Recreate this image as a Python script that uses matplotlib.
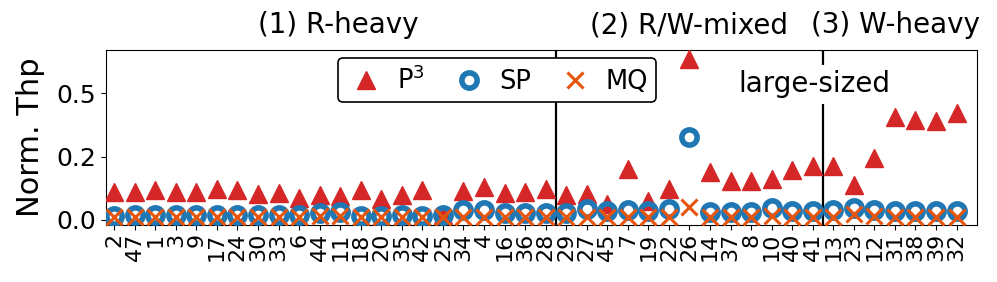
import numpy as np
import matplotlib
matplotlib.use('Agg')
import matplotlib.pyplot as plt
from matplotlib.ticker import FormatStrFormatter
import matplotlib.transforms as mtransforms

# workload ids along the x axis
labels = ['2', '47', '1', '3', '9', '17', '24', '30', '33', '6', '44', '11', '18', '20',
          '35', '42', '25', '34', '4', '16', '36', '28', '29', '27', '45', '7', '19', '22',
          '26', '14', '37', '8', '10', '40', '41', '13', '23', '12', '31', '38', '39', '32']

# normalized throughput per system
p3 = [0.112, 0.109, 0.118, 0.111, 0.109, 0.122, 0.119, 0.102, 0.106, 0.088, 0.099,
      0.093, 0.119, 0.082, 0.098, 0.118, 0.020, 0.115, 0.132, 0.105, 0.111, 0.124,
      0.097, 0.102, 0.063, 0.201, 0.076, 0.122, 0.635, 0.188, 0.155, 0.155,
      0.161, 0.197, 0.211, 0.214, 0.138, 0.243, 0.405, 0.395, 0.389, 0.424]
sp = [0.016, 0.018, 0.018, 0.018, 0.018, 0.018, 0.018, 0.020, 0.020, 0.020, 0.028,
      0.033, 0.016, 0.015, 0.020, 0.015, 0.020, 0.039, 0.039, 0.026, 0.028, 0.026,
      0.029, 0.045, 0.036, 0.039, 0.036, 0.045, 0.326, 0.033, 0.033, 0.033,
      0.048, 0.035, 0.035, 0.038, 0.048, 0.038, 0.036, 0.036, 0.036, 0.036]
mq = [0.013, 0.012, 0.012, 0.012, 0.012, 0.012, 0.012, 0.012, 0.012, 0.012, 0.014,
      0.014, 0.012, 0.012, 0.012, 0.012, 0.012, 0.013, 0.013, 0.012, 0.012, 0.012,
      0.012, 0.013, 0.012, 0.013, 0.012, 0.013, 0.050, 0.013, 0.013, 0.013,
      0.014, 0.013, 0.013, 0.013, 0.022, 0.014, 0.013, 0.013, 0.013, 0.013]

# group boundaries and headers
splits = [21.5, 34.5]
groups = ['(1) R-heavy', '(2) R/W-mixed', '(3) W-heavy']
group_x = [10.9, 28.0, 38.05]

x = np.arange(len(labels))

fig = plt.figure(figsize=(9.97, 2.82), dpi=100)
ax = fig.add_axes([0.1063, 0.202, 0.8737, 0.621])

ax.plot(x, p3, linestyle='none', marker='^', ms=12.5, color='#d62728', label='P$^3$', zorder=3)
ax.plot(x, sp, linestyle='none', marker='o', ms=11, mew=4, mfc='none', color='#1f77b4',
        label='SP', zorder=4)
ax.plot(x, mq, linestyle='none', marker='x', ms=11.5, mew=2.2, color='#e6550d', label='MQ', zorder=5)

for s in splits:
    ax.axvline(s, color='black', lw=1.6, zorder=2)

ax.set_xlim(-0.4, 42.0)
ax.set_ylim(-0.02, 0.671)
ax.set_yticks([0, 0.25, 0.5])
ax.yaxis.set_major_formatter(FormatStrFormatter('%.1f'))
ax.tick_params(axis='y', labelsize=18)
ax.set_xticks(x)
ax.set_xticklabels(labels, rotation=90, fontsize=16)
ax.tick_params(axis='x', pad=2)
ax.set_ylabel('Norm. Thp', fontsize=22, labelpad=8)

trans = mtransforms.blended_transform_factory(ax.transData, ax.transAxes)
for gx, g in zip(group_x, groups):
    ax.text(gx, 1.14, g, transform=trans, ha='center', va='center', fontsize=20)

ax.text(34.1, 0.535, 'large-sized', ha='center', va='center', fontsize=20, zorder=6,
        bbox=dict(facecolor='white', edgecolor='none', pad=4))

leg = ax.legend(loc='upper center', bbox_to_anchor=(0.449, 0.952), ncol=3, fontsize=18.5,
                frameon=True, borderaxespad=0, handletextpad=0.4, columnspacing=0.9,
                handlelength=1.6, borderpad=0.3)
leg.get_frame().set_edgecolor('black')
leg.get_frame().set_linewidth(1.2)
leg.get_frame().set_alpha(1)
leg.set_zorder(10)

fig.savefig('out.png', dpi=100)
